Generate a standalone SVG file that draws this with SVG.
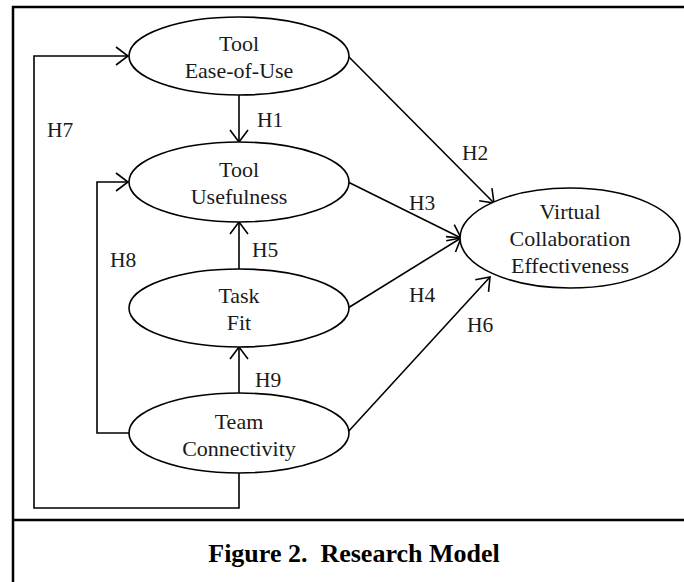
<svg xmlns="http://www.w3.org/2000/svg" width="684" height="582" viewBox="0 0 684 582">
<style>
.node{fill:#fff;stroke:#000;stroke-width:1.6}
.t{font-family:"Liberation Serif","Times New Roman",serif;font-size:22px;fill:#1a1a1a;text-anchor:middle}
.lbl{font-family:"Liberation Serif","Times New Roman",serif;font-size:21.5px;fill:#1a1a1a}
.c{fill:none;stroke:#000;stroke-width:1.6}
.frame{fill:none;stroke:#000;stroke-width:2.5}
.cap{font-family:"Liberation Serif","Times New Roman",serif;font-size:26px;font-weight:bold;fill:#000;text-anchor:middle}
</style>
<defs>
<marker id="ah" markerUnits="userSpaceOnUse" viewBox="0 0 14 20" refX="13" refY="10" markerWidth="14" markerHeight="20" orient="auto">
<path d="M1,1 L13,10 L1,19" fill="none" stroke="#000" stroke-width="1.6"/>
</marker>
</defs>
<rect width="684" height="582" fill="#fff"/>
<g id="frame">
<path class="frame" d="M690,7 H13 V590"/>
<line class="frame" x1="13" y1="520" x2="690" y2="520"/>
</g>
<g id="connectors">
<path class="c" d="M239,473 V508 H34 V56 H128" marker-end="url(#ah)"/>
<path class="c" d="M129,433 H97 V182 H128" marker-end="url(#ah)"/>
<path class="c" d="M239,95 V142" marker-end="url(#ah)"/>
<path class="c" d="M239,269 V222" marker-end="url(#ah)"/>
<path class="c" d="M239,393 V347" marker-end="url(#ah)"/>
<path class="c" d="M348,56 L494,203" marker-end="url(#ah)"/>
<path class="c" d="M348,182 L461,238" marker-end="url(#ah)"/>
<path class="c" d="M348,308 L461,238" marker-end="url(#ah)"/>
<path class="c" d="M347,433 L490,277" marker-end="url(#ah)"/>
<text class="lbl" x="257" y="127">H1</text>
<text class="lbl" x="462" y="160">H2</text>
<text class="lbl" x="409" y="210">H3</text>
<text class="lbl" x="409" y="302">H4</text>
<text class="lbl" x="252" y="257">H5</text>
<text class="lbl" x="467" y="332">H6</text>
<text class="lbl" x="47" y="137">H7</text>
<text class="lbl" x="110" y="267">H8</text>
<text class="lbl" x="255" y="387">H9</text>
</g>
<g id="ease">
<ellipse class="node" cx="239" cy="56" rx="110" ry="39"/>
<text class="t" x="239" y="51">Tool</text>
<text class="t" x="239" y="78">Ease-of-Use</text>
</g>
<g id="usefulness">
<ellipse class="node" cx="239" cy="182" rx="110" ry="40"/>
<text class="t" x="239" y="177">Tool</text>
<text class="t" x="239" y="204">Usefulness</text>
</g>
<g id="taskfit">
<ellipse class="node" cx="239" cy="308" rx="110" ry="39"/>
<text class="t" x="239" y="303">Task</text>
<text class="t" x="239" y="330">Fit</text>
</g>
<g id="team">
<ellipse class="node" cx="239" cy="433" rx="110" ry="40"/>
<text class="t" x="239" y="429">Team</text>
<text class="t" x="239" y="456">Connectivity</text>
</g>
<g id="vce">
<ellipse class="node" cx="570" cy="238" rx="110" ry="50"/>
<text class="t" x="570" y="219">Virtual</text>
<text class="t" x="570" y="246">Collaboration</text>
<text class="t" x="570" y="273">Effectiveness</text>
</g>
<text class="cap" x="354" y="562" xml:space="preserve">Figure 2.  Research Model</text>
</svg>
